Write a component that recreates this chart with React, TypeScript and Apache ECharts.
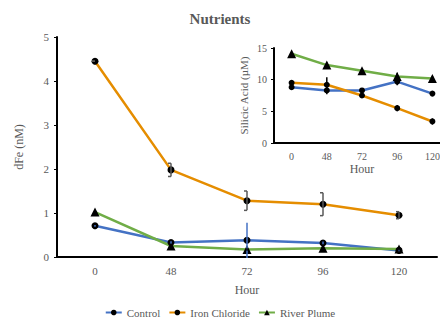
import React, { useEffect, useRef } from "react";
import * as echarts from "echarts";

const hours = ["0", "48", "72", "96", "120"];
const feControl = [0.71, 0.33, 0.38, 0.32, 0.15];
const feIron = [4.45, 1.98, 1.28, 1.2, 0.95];
const feRiver = [1.02, 0.25, 0.17, 0.2, 0.18];
const feControlErr = [0.02, 0.03, 0.4, 0.03, 0.02];
const feIronErr = [0.0, 0.15, 0.22, 0.26, 0.08];
const feRiverErr = [0.03, 0.05, 0.03, 0.04, 0.03];

const siControl = [8.8, 8.3, 8.3, 9.7, 7.8];
const siIron = [9.5, 9.2, 7.5, 5.5, 3.4];
const siRiver = [14.1, 12.3, 11.4, 10.5, 10.2];
const siControlErr = [0.2, 0.6, 0.3, 0.6, 0.2];
const siIronErr = [0.3, 1.2, 0.4, 0.5, 0.5];
const siRiverErr = [0.3, 0.4, 0.4, 0.6, 0.4];

const FONT = "Liberation Serif";
const GRAY = "#595959";
const BLUE = "#4472C4";
const ORANGE = "#E58D00";
const GREEN = "#70AD47";

function errData(vals: number[], errs: number[]) {
  return vals.map((v, i) => [i, v - errs[i], v + errs[i]]);
}

function errSeries(vals: number[], errs: number[], color: string, axis: number, cap: number) {
  return {
    type: "custom",
    xAxisIndex: axis,
    yAxisIndex: axis,
    silent: true,
    z: 5,
    data: errData(vals, errs),
    renderItem: (params: any, api: any) => {
      const x = api.value(0);
      const top = api.coord([x, api.value(2)]);
      const bot = api.coord([x, api.value(1)]);
      const st = { stroke: color, lineWidth: 1.5 };
      return {
        type: "group",
        children: [
          { type: "line", shape: { x1: top[0], y1: top[1], x2: bot[0], y2: bot[1] }, style: st },
          { type: "line", shape: { x1: top[0], y1: top[1], x2: top[0] + cap, y2: top[1] }, style: st },
          { type: "line", shape: { x1: bot[0], y1: bot[1], x2: bot[0] + cap, y2: bot[1] }, style: st },
        ],
      };
    },
  };
}

function lineSeries(name: string, data: number[], color: string, symbol: string, size: number, axis: number) {
  return {
    name,
    type: "line",
    xAxisIndex: axis,
    yAxisIndex: axis,
    data,
    symbol,
    symbolSize: size,
    z: 3,
    lineStyle: { color, width: 2.5 },
    itemStyle: { color: "#000" },
  };
}

export default function App() {
  const ref = useRef<HTMLDivElement>(null);
  useEffect(() => {
    const chart = echarts.init(ref.current!, null, { renderer: "svg" });
    const axisLabel = { color: GRAY, fontFamily: FONT, fontSize: 11 };
    chart.setOption({
      animation: false,
      title: {
        text: "Nutrients",
        left: "center",
        top: 6,
        textStyle: { fontFamily: FONT, fontSize: 15, fontWeight: "bold", color: GRAY },
      },
      legend: {
        data: ["Control", "Iron Chloride", "River Plume"],
        top: 302,
        left: "center",
        itemWidth: 16,
        itemHeight: 7,
        itemGap: 8,
        textStyle: { fontFamily: FONT, fontSize: 11, color: GRAY },
      },
      grid: [
        { left: 57, right: 3, top: 37, bottom: 63, outerBoundsMode: "none" },
        { left: 274, top: 48, width: 176, height: 95, outerBoundsMode: "none" },
      ],
      xAxis: [
        {
          type: "category",
          gridIndex: 0,
          data: hours,
          name: "Hour",
          nameLocation: "middle",
          nameGap: 27,
          nameTextStyle: { fontFamily: FONT, fontSize: 12, color: GRAY },
          axisLine: { lineStyle: { color: "#000", width: 2 } },
          axisTick: { alignWithLabel: true, length: 3, lineStyle: { color: "#000" } },
          axisLabel: { ...axisLabel, margin: 8 },
        },
        {
          type: "category",
          gridIndex: 1,
          data: hours,
          name: "Hour",
          nameLocation: "middle",
          nameGap: 20,
          nameTextStyle: { fontFamily: FONT, fontSize: 12, color: GRAY },
          axisLine: { lineStyle: { color: "#000", width: 2 } },
          axisTick: { show: false },
          axisLabel: { ...axisLabel, fontSize: 10, margin: 8, showMaxLabel: true },
        },
      ],
      yAxis: [
        {
          type: "value",
          gridIndex: 0,
          min: 0,
          max: 5,
          interval: 1,
          name: "dFe (nM)",
          nameLocation: "middle",
          nameGap: 32,
          nameTextStyle: { fontFamily: FONT, fontSize: 12, color: GRAY },
          axisLine: { show: true, lineStyle: { color: "#000", width: 2 } },
          axisTick: { show: true, length: 3, lineStyle: { color: "#000" } },
          splitLine: { show: false },
          axisLabel: { ...axisLabel, margin: 8 },
        },
        {
          type: "value",
          gridIndex: 1,
          min: 0,
          max: 15,
          interval: 5,
          name: "Silicic Acid (µM)",
          nameLocation: "middle",
          nameGap: 25,
          nameTextStyle: { fontFamily: FONT, fontSize: 11, color: GRAY },
          axisLine: { show: true, lineStyle: { color: "#000", width: 2 } },
          axisTick: { show: true, length: 3, lineStyle: { color: "#000" } },
          splitLine: { show: false },
          axisLabel: { ...axisLabel, fontSize: 10, margin: 7 },
        },
      ],
      series: [
        errSeries(feControl, feControlErr, BLUE, 0, 0),
        errSeries(feIron, feIronErr, GRAY, 0, -3),
        errSeries(feRiver, feRiverErr, "#000", 0, 0),
        lineSeries("Control", feControl, BLUE, "circle", 7, 0),
        lineSeries("Iron Chloride", feIron, ORANGE, "circle", 7, 0),
        lineSeries("River Plume", feRiver, GREEN, "triangle", 9, 0),
        errSeries(siControl, siControlErr, "#000", 1, 0),
        errSeries(siIron, siIronErr, "#000", 1, 0),
        errSeries(siRiver, siRiverErr, "#000", 1, 0),
        lineSeries("Control", siControl, BLUE, "circle", 6, 1),
        lineSeries("Iron Chloride", siIron, ORANGE, "circle", 6, 1),
        lineSeries("River Plume", siRiver, GREEN, "triangle", 9, 1),
      ],
    });
    return () => chart.dispose();
  }, []);
  return (
    <div
      ref={ref}
      style={{ position: "absolute", left: 0, top: 0, width: 440, height: 320 }}
    />
  );
}
